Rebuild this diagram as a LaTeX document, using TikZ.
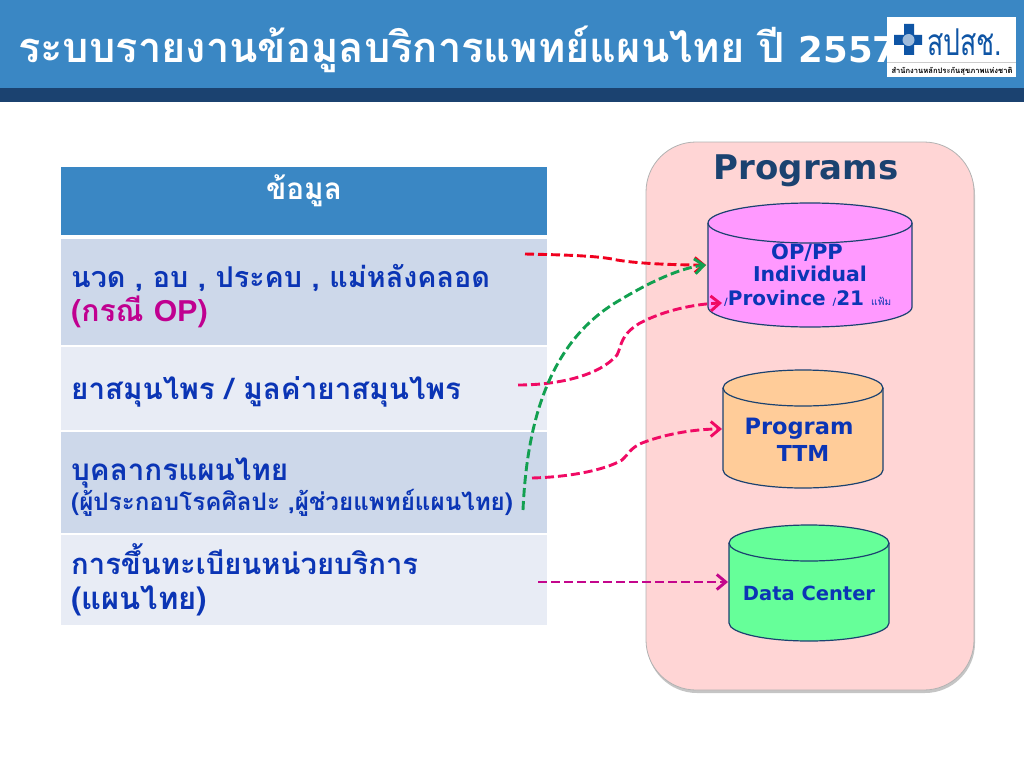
\documentclass[tikz,border=0pt]{standalone}
\usepackage{fontspec}
\setmainfont[Script=Thai]{Loma}
\newfontfamily\verdfont{DejaVu Sans}
\newfontfamily\arialfont{Liberation Sans}
\usetikzlibrary{positioning,calc,arrows.meta,shadows}
\definecolor{barblue}{HTML}{3A87C4}
\definecolor{bardark}{HTML}{1B4270}
\definecolor{rowdark}{HTML}{CDD8EA}
\definecolor{rowlight}{HTML}{E8ECF5}
\definecolor{panelpink}{HTML}{FFD5D5}
\definecolor{textblue}{HTML}{0B35B5}
\definecolor{textmag}{HTML}{C00090}
\definecolor{linered}{HTML}{F0001E}
\definecolor{linepink}{HTML}{F00A64}
\definecolor{linegreen}{HTML}{12A050}
\definecolor{linemag}{HTML}{C4068C}
\definecolor{drumpurple}{HTML}{FF99FF}
\definecolor{drumorange}{HTML}{FFCC99}
\definecolor{drumgreen}{HTML}{66FF99}
\definecolor{crossblue}{HTML}{0F55A5}
\tikzset{
  band/.style={inner sep=0pt, outer sep=0pt, anchor=north west},
  rowtext/.style={anchor=base west, inner sep=0pt, text=textblue, font=\bfseries\fontsize{29.6}{30}\selectfont},
  drumline/.style={draw=bardark, line width=1.2pt},
  drumtext/.style={anchor=base, inner sep=0pt, text=textblue, font=\verdfont\bfseries\fontsize{20.4}{21}\selectfont},
  flow/.style={-{Straight Barb[length=9pt,width=15pt]}, line width=2.9pt, dash pattern=on 9pt off 4pt}
}
% name, left, top, width, height, ellipse radius, colour
\newcommand{\drumnode}[7]{
  \node[band, minimum width=#4pt, minimum height=#5pt] (#1) at (#2,#3) {};
  \draw[drumline, fill=#7] (#1.north west) ++(0,-#6pt) -- ($(#1.south west)+(0,#6pt)$)
    arc[start angle=180, end angle=360, x radius=#4pt/2, y radius=#6pt]
    -- ($(#1.north east)+(0,-#6pt)$)
    arc[start angle=0, end angle=180, x radius=#4pt/2, y radius=#6pt] -- cycle;
  \draw[drumline] (#1.north west) ++(0,-#6pt)
    arc[start angle=180, end angle=360, x radius=#4pt/2, y radius=#6pt];
}
\begin{document}
\begin{tikzpicture}[x=1pt, y=-1pt, >=Stealth]
  \useasboundingbox (0,0) rectangle (1024,768);
  % top bar
  \node[band, fill=barblue, minimum width=1024pt, minimum height=88pt] (bar) at (0,0) {};
  \node[band, fill=bardark, minimum width=1024pt, minimum height=14pt] (barlow) at (0,88) {};
  \node[anchor=base west, inner sep=0pt, text=white, font=\bfseries\fontsize{41.6}{42}\selectfont] (title) at (18,63) {ระบบรายงานข้อมูลบริการแพทย์แผนไทย ปี {\verdfont\fontsize{35.5}{36}\selectfont 2557}};
  % logo
  \node[band, fill=white, minimum width=129pt, minimum height=60pt] (logo) at (887,17) {};
  \fill[crossblue] (904,24) rectangle (914,55) (894,35) rectangle (922,45);
  \fill[white!60!crossblue] (908.5,40) circle (6);
  \node[anchor=base west, inner sep=0pt, text=crossblue, font=\fontsize{37}{37}\selectfont] (logoname) at (927,56) {\scalebox{.72}[1]{สปสช.}};
  \draw[gray!40] (887,62) -- (1016,62);
  \node[anchor=base, inner sep=0pt, text=black, font=\bfseries\fontsize{7.6}{8}\selectfont] (logosub) at (952,73.5) {สำนักงานหลักประกันสุขภาพแห่งชาติ};
  % table
  \foreach \t/\h/\c/\n in {167/68/barblue/head, 239/106/rowdark/r1, 347/83/rowlight/r2, 432/101/rowdark/r3, 535/90/rowlight/r4} {
    \node[band, fill=\c, minimum width=486pt, minimum height=\h pt] (\n) at (61,\t) {};
  }
  \node[anchor=base, inner sep=0pt, text=white, font=\bfseries\fontsize{29.7}{30}\selectfont] (headtext) at (304,199) {ข้อมูล};
  \node[rowtext, font=\bfseries\fontsize{28.7}{29}\selectfont] (t1) at (71,287) {นวด , อบ , ประคบ , แม่หลังคลอด};
  \node[rowtext, text=textmag, font=\bfseries\fontsize{30.2}{31}\selectfont] (t1b) at (71,321) {(กรณี {\arialfont OP})};
  \node[rowtext] (t2) at (71,399) {ยาสมุนไพร / มูลค่ายาสมุนไพร};
  \node[rowtext] (t3) at (71,480) {บุคลากรแผนไทย};
  \node[rowtext, font=\bfseries\fontsize{24.2}{25}\selectfont] (t3b) at (71,510) {(ผู้ประกอบโรคศิลปะ ,ผู้ช่วยแพทย์แผนไทย)};
  \node[rowtext, font=\bfseries\fontsize{29.2}{30}\selectfont] (t4) at (71,574) {การขึ้นทะเบียนหน่วยบริการ};
  \node[rowtext, font=\bfseries\fontsize{31}{32}\selectfont] (t4b) at (71,609) {(แผนไทย)};
  % programs panel
  \node[band, draw=black!30, line width=0.8pt, fill=panelpink, rounded corners=50pt, minimum width=328pt, minimum height=548pt, drop shadow={shadow xshift=1pt, shadow yshift=-3pt, fill=black!45}] (panel) at (646,142) {};
  \node[anchor=base, inner sep=0pt, text=bardark, font=\verdfont\bfseries\fontsize{34}{34}\selectfont] (paneltitle) at (806,179) {Programs};
  \drumnode{opdrum}{708}{203}{204}{124}{20}{drumpurple}
  \drumnode{ttmdrum}{723}{370}{160}{118}{18}{drumorange}
  \drumnode{dcdrum}{729}{525}{160}{116}{18}{drumgreen}
  \node[drumtext, font=\verdfont\bfseries\fontsize{21}{21}\selectfont] (op1) at (807,259) {OP/PP};
  \node[drumtext] (op2) at (810,281) {Individual};
  \node[drumtext, anchor=base west, font=\verdfont\bfseries\fontsize{20}{20}\selectfont] (op3) at (724,305) {{\fontsize{10}{10}\selectfont /}Province {\fontsize{10}{10}\selectfont /}21 {\rmfamily\mdseries\fontsize{10}{10}\selectfont แฟ้ม}};
  \node[drumtext, font=\verdfont\bfseries\fontsize{22.5}{23}\selectfont] (ttm1) at (799,434) {Program};
  \node[drumtext, font=\verdfont\bfseries\fontsize{22}{23}\selectfont] (ttm2) at (803,461) {TTM};
  \node[drumtext, font=\verdfont\bfseries\fontsize{19.5}{20}\selectfont] (dc) at (809,600) {Data Center};
  % connectors
  \coordinate (redfrom) at (525,254);
  \coordinate (redto) at (706,265);
  \coordinate (greenfrom) at (523,510);
  \coordinate (greento) at (706,265);
  \coordinate (pinkfrom) at (518,385);
  \coordinate (pinkto) at (722,303);
  \coordinate (ttmfrom) at (532,478);
  \coordinate (ttmto) at (722,429);
  \coordinate (dcfrom) at (538,582);
  \coordinate (dcto) at (728,582);
  \draw[flow, draw=linered] (redfrom) .. controls (570,255) and (600,256) .. (617,260) .. controls (640,264) and (680,265) .. (redto);
  \draw[flow, draw=linepink] (pinkfrom) .. controls (560,385) and (600,375) .. (617,355) .. controls (622,345) and (620,335) .. (640,323) .. controls (665,310) and (695,304) .. (pinkto);
  \draw[flow, draw=linepink] (ttmfrom) .. controls (570,477) and (605,470) .. (622,460) .. controls (628,455) and (630,448) .. (642,443) .. controls (665,434) and (695,429) .. (ttmto);
  \draw[flow, draw=linegreen] (greenfrom) .. controls (527,420) and (550,340) .. (620,300) .. controls (650,282) and (680,268) .. (greento);
  \draw[flow, draw=linemag] (dcfrom) -- (dcto);
\end{tikzpicture}
\end{document}
